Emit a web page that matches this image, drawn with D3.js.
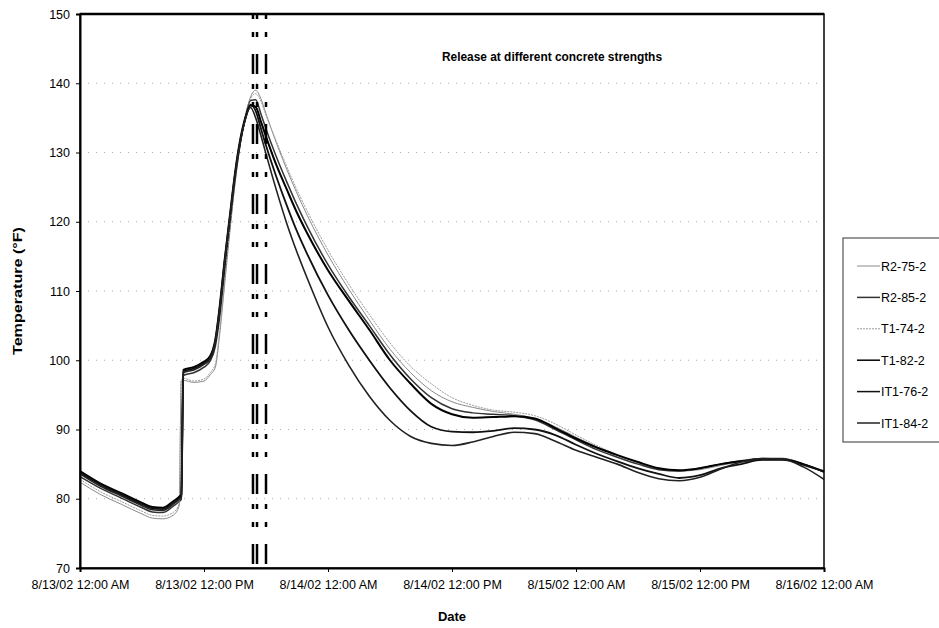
<!DOCTYPE html>
<html>
<head>
<meta charset="utf-8">
<script src="https://cdn.jsdelivr.net/npm/d3@7"></script>
<style>
  body { margin: 0; background: #fff; }
  text { font-family: "Liberation Sans", Arial, sans-serif; }
  .bold { font-weight: bold; }
</style>
</head>
<body>
<div id="chart"></div>
<script>
// hours after 8/13/02 12:00 AM
const hours = [0, 2, 4, 6, 7, 8, 9, 9.6, 9.8, 10, 11, 12, 12.6, 13.1, 13.5, 14, 14.5, 15, 15.5, 16, 16.5, 17, 17.5, 18,
  19, 20, 21, 22, 24, 26, 28, 30, 32, 34, 36, 38, 40, 42, 44, 46, 48, 50, 52, 54, 56, 58, 60, 62, 64, 66, 68, 70, 72];

const r2_75 = [82.4, 80.6, 79.2, 77.8, 77.2, 77.1, 77.6, 79.0, 97.0, 97.1, 96.8, 97.0, 97.9, 99.0, 103.5, 111.0, 118.5, 125.5, 131.0, 135.2, 138.0, 139.0, 137.8, 135.6,
  131.4, 127.6, 124.1, 120.9, 115.2, 110.3, 105.8, 101.6, 98.2, 95.6, 94.0, 93.2, 92.6, 92.2, 91.6, 90.4, 88.9, 87.5, 86.3, 85.2, 84.3, 84.0, 84.2, 84.8, 85.4, 85.8, 85.8, 85.0, 84.0];
const r2_85 = [83.2, 81.5, 80.1, 78.7, 78.1, 78.0, 78.9, 79.6, 79.9, 97.8, 98.2, 99.0, 99.9, 102.0, 106.0, 112.8, 119.5, 126.0, 131.2, 135.0, 137.5, 137.6, 135.6, 133.4,
  129.4, 125.8, 122.4, 119.3, 113.8, 109.2, 105.0, 100.8, 97.3, 94.6, 93.0, 92.4, 92.2, 92.0, 91.4, 90.0, 88.5, 87.1, 86.0, 85.0, 84.2, 84.0, 84.4, 85.0, 85.5, 85.8, 85.8, 85.0, 84.0];
const t1_74 = [82.8, 81.0, 79.6, 78.2, 77.6, 77.5, 78.0, 79.3, 97.2, 97.4, 97.0, 97.3, 98.2, 99.5, 104.0, 111.5, 119.0, 126.0, 131.4, 135.4, 137.8, 138.5, 137.4, 135.4,
  131.6, 128.0, 124.6, 121.5, 115.9, 111.0, 106.6, 102.5, 99.1, 96.6, 94.6, 93.5, 92.8, 92.5, 92.0, 90.8, 89.2, 87.7, 86.4, 85.3, 84.4, 84.1, 84.3, 84.9, 85.4, 85.8, 85.8, 85.0, 84.0];
const t1_82 = [84.0, 82.2, 80.8, 79.4, 78.8, 78.7, 79.6, 80.3, 80.6, 98.6, 99.0, 99.8, 100.6, 103.0, 107.5, 114.5, 120.8, 127.0, 131.8, 135.0, 136.8, 136.6, 134.5, 132.3,
  128.2, 124.7, 121.3, 118.3, 113.0, 108.6, 104.4, 100.0, 96.6, 93.7, 92.2, 91.7, 91.8, 91.9, 91.6, 90.2, 88.7, 87.4, 86.3, 85.3, 84.4, 84.1, 84.4, 85.0, 85.4, 85.7, 85.7, 85.0, 83.9];
const it1_76 = [83.8, 82.0, 80.6, 79.2, 78.6, 78.5, 79.4, 80.1, 80.4, 98.4, 98.8, 99.6, 100.4, 102.8, 107.3, 114.3, 120.6, 126.8, 131.6, 134.9, 136.9, 136.0, 133.5, 131.0,
  126.5, 122.4, 118.6, 115.3, 109.4, 104.4, 100.0, 96.0, 92.7, 90.4, 89.7, 89.6, 89.8, 90.2, 90.0, 89.2, 87.8, 86.5, 85.4, 84.4, 83.6, 83.0, 83.4, 84.4, 85.0, 85.6, 85.6, 84.9, 83.9];
const it1_84 = [83.6, 81.8, 80.4, 79.0, 78.4, 78.3, 79.2, 79.9, 80.2, 98.2, 98.6, 99.4, 100.2, 102.6, 107.0, 114.0, 120.4, 126.6, 131.4, 134.8, 136.5, 135.0, 132.5, 129.8,
  124.6, 119.8, 115.6, 111.8, 104.8, 99.3, 94.8, 91.3, 89.0, 88.0, 87.7, 88.2, 89.0, 89.6, 89.4, 88.3, 87.0, 86.0, 85.0, 83.8, 82.9, 82.6, 83.1, 84.3, 85.3, 85.8, 85.7, 84.6, 82.8];

const seriesNames = ["R2-75-2", "R2-85-2", "T1-74-2", "T1-82-2", "IT1-76-2", "IT1-84-2"];
const seriesValues = [r2_75, r2_85, t1_74, t1_82, it1_76, it1_84];

// release times, hours after start
const releaseHours = [16.74, 17.13, 18.0];

const yTicks = [70, 80, 90, 100, 110, 120, 130, 140, 150];
const xTickHours = [0, 12, 24, 36, 48, 60, 72];

const styles = [
  { color: "#8a8a8a", width: 1, dash: null },
  { color: "#333", width: 1.5, dash: null },
  { color: "#9a9a9a", width: 1, dash: "2,1" },
  { color: "#000", width: 2, dash: null },
  { color: "#111", width: 1.8, dash: null },
  { color: "#222", width: 1.6, dash: null }
];

const W = 939, H = 628;
const margin = { top: 14, left: 80, right: 115, bottom: 60 };
const width = W - margin.left - margin.right,
  height = H - margin.top - margin.bottom;

const base = new Date(2002, 7, 13, 0, 0);
const toDate = (h) => new Date(base.getTime() + h * 3600 * 1000);

const svg = d3.select("#chart").append("svg")
  .attr("width", W).attr("height", H);

const g = svg.append("g")
  .attr("transform", "translate(" + margin.left + "," + margin.top + ")");

const x = d3.scaleTime().domain([toDate(0), toDate(72)]).range([0, width]);
const y = d3.scaleLinear().domain([70, 150]).range([height, 0]);

// gridlines
g.selectAll(".grid").data(yTicks.slice(1, -1)).enter()
  .append("line")
  .attr("x1", 0).attr("x2", width)
  .attr("y1", (d) => y(d)).attr("y2", (d) => y(d))
  .attr("stroke", "#aaa").attr("stroke-width", 1)
  .attr("stroke-dasharray", "1,7");

// series lines
const line = d3.line()
  .x((d) => x(toDate(d[0])))
  .y((d) => y(d[1]))
  .curve(d3.curveMonotoneX);

seriesValues.forEach((vals, i) => {
  const pts = hours.map((h, j) => [h, vals[j]]);
  g.append("path")
    .attr("fill", "none")
    .attr("stroke", styles[i].color)
    .attr("stroke-width", styles[i].width)
    .attr("stroke-dasharray", styles[i].dash)
    .attr("d", line(pts));
});

// release lines
g.selectAll(".release").data(releaseHours).enter()
  .append("line")
  .attr("x1", (d) => x(toDate(d))).attr("x2", (d) => x(toDate(d)))
  .attr("y1", 0).attr("y2", height)
  .attr("stroke", "#000").attr("stroke-width", 2.5)
  .attr("stroke-dasharray", "5,13,5,17,20,10");

// frame
g.append("rect")
  .attr("x", 0).attr("y", 0).attr("width", width).attr("height", height)
  .attr("fill", "none").attr("stroke", "#000").attr("stroke-width", 1.5);
g.append("line").attr("x1", 0).attr("x2", width).attr("y1", 0).attr("y2", 0)
  .attr("stroke", "#000").attr("stroke-width", 2.5);

// axes
const fmt = d3.timeFormat("%-m/%-d/%y %I:%M %p");
const xAxis = g.append("g")
  .attr("transform", "translate(0," + height + ")")
  .call(d3.axisBottom(x).tickValues(xTickHours.map(toDate)).tickFormat(fmt).tickSizeOuter(0).tickSize(4).tickPadding(8));
const yAxis = g.append("g")
  .call(d3.axisLeft(y).tickValues(yTicks).tickSizeOuter(0).tickSize(4).tickPadding(6));

[xAxis, yAxis].forEach((a) => {
  a.select(".domain").attr("stroke", "#000").attr("stroke-width", 2);
  a.selectAll("text").attr("font-size", 12.5).attr("fill", "#000")
    .style("font-family", '"Liberation Sans", Arial, sans-serif');
});

// labels
svg.append("text").attr("class", "bold")
  .attr("x", margin.left + width / 2).attr("y", 621)
  .attr("text-anchor", "middle").attr("font-size", 13)
  .text("Date");
svg.append("text").attr("class", "bold")
  .attr("transform", "translate(22," + (margin.top + height / 2) + ") rotate(-90)")
  .attr("text-anchor", "middle").attr("font-size", 13)
  .attr("textLength", 128).attr("lengthAdjust", "spacingAndGlyphs")
  .text("Temperature (°F)");
svg.append("text").attr("class", "bold")
  .attr("x", 442).attr("y", 61)
  .attr("font-size", 12)
  .attr("textLength", 220).attr("lengthAdjust", "spacingAndGlyphs")
  .text("Release at different concrete strengths");

// legend
const lg = svg.append("g").attr("transform", "translate(843,238)");
lg.append("rect").attr("width", 110).attr("height", 204)
  .attr("fill", "#fff").attr("stroke", "#333").attr("stroke-width", 1);
seriesNames.forEach((name, i) => {
  const yy = 28 + i * 31.4;
  lg.append("line").attr("x1", 14).attr("x2", 37).attr("y1", yy).attr("y2", yy)
    .attr("stroke", styles[i].color).attr("stroke-width", Math.min(styles[i].width, 1.5))
    .attr("stroke-dasharray", styles[i].dash);
  lg.append("text").attr("x", 38).attr("y", yy + 4.5)
    .attr("font-size", 12.5).text(name);
});
</script>
</body>
</html>
